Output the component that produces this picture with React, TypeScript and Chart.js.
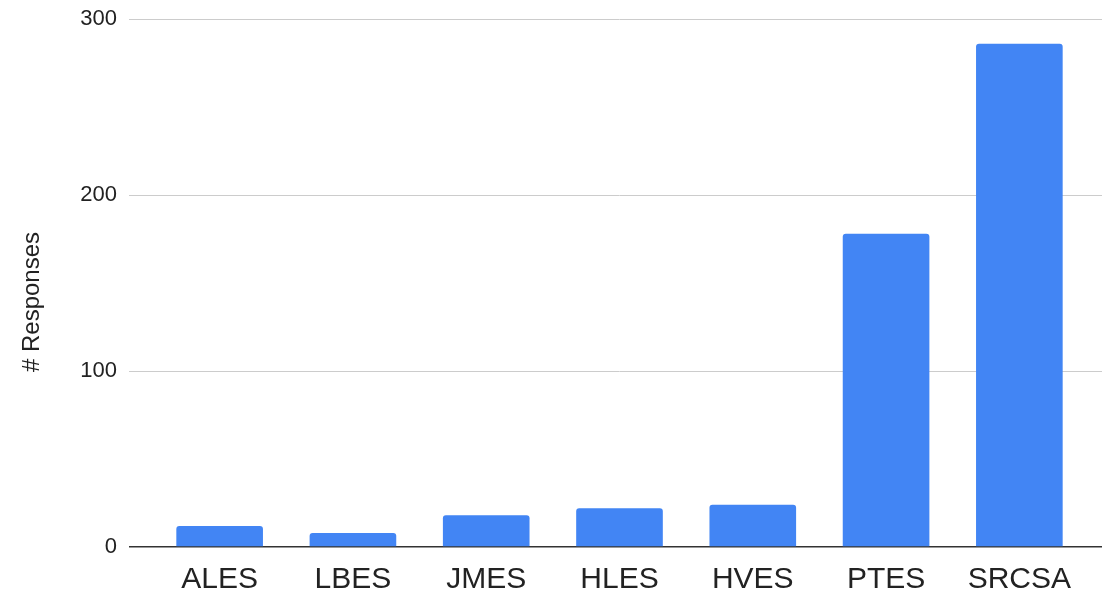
import React, { useEffect, useRef } from "react";
import { Chart, registerables } from "chart.js";

Chart.register(...registerables);

const categories = ["ALES", "LBES", "JMES", "HLES", "HVES", "PTES", "SRCSA"];
const responses = [12, 8, 18, 22, 24, 178, 286];
const yTicks = [0, 100, 200, 300];
const yTitle = "# Responses";

const FONT = "'Liberation Sans', Arial, sans-serif";

const yTitlePlugin = {
  id: "yTitlePlugin",
  afterDraw(chart: any) {
    const c = chart.ctx;
    c.save();
    c.translate(32.5, chart.height / 2 + 4);
    c.rotate(-Math.PI / 2);
    c.font = `24px ${FONT}`;
    c.fillStyle = "#222";
    c.textAlign = "center";
    c.textBaseline = "middle";
    c.fillText(yTitle, 0, 0);
    c.restore();
  },
};

export default function App() {
  const ref = useRef<HTMLCanvasElement | null>(null);
  useEffect(() => {
    document.body.style.margin = "0";
    const ctx = ref.current!.getContext("2d")!;
    const chart = new Chart(ctx, {
      type: "bar",
      data: {
        labels: categories,
        datasets: [
          {
            data: responses,
            backgroundColor: "#4285F4",
            borderRadius: 3,
            borderSkipped: "start",
            barPercentage: 0.65,
            categoryPercentage: 1,
          },
        ],
      },
      plugins: [yTitlePlugin],
      options: {
        animation: false,
        responsive: false,
        maintainAspectRatio: false,
        layout: { padding: { top: 19, left: 0, right: 0, bottom: 0 } },
        plugins: { legend: { display: false }, tooltip: { enabled: false } },
        scales: {
          x: {
            afterFit: (s: any) => {
              s.height = 49;
              s.paddingLeft = 0;
              s.paddingRight = 0;
            },
            grid: { display: false, drawTicks: false },
            border: { display: false },
            ticks: {
              color: "#222",
              padding: 15,
              font: { family: FONT, size: 30 },
              maxRotation: 0,
            },
          },
          y: {
            min: 0,
            max: 300,
            afterBuildTicks: (s: any) => {
              s.ticks = yTicks.map((v) => ({ value: v }));
            },
            afterFit: (s: any) => {
              s.width = 153;
              s.paddingTop = 0;
              s.paddingBottom = 0;
            },
            grid: {
              color: (c: any) => (c.tick && c.tick.value === 0 ? "#333" : "#ccc"),
              lineWidth: (c: any) => (c.tick && c.tick.value === 0 ? 1.5 : 1),
              tickLength: 24,
              drawTicks: true,
            },
            border: { display: false },
            ticks: {
              color: "#222",
              padding: 12,
              font: { family: FONT, size: 22 },
            },
          },
          yRight: {
            position: "right",
            min: 0,
            max: 300,
            afterBuildTicks: (s: any) => {
              s.ticks = yTicks.map((v) => ({ value: v }));
            },
            afterFit: (s: any) => {
              s.width = 16;
              s.paddingTop = 0;
              s.paddingBottom = 0;
            },
            grid: {
              drawOnChartArea: false,
              drawTicks: true,
              tickLength: 16,
              color: (c: any) => (c.tick && c.tick.value === 0 ? "#333" : "#ccc"),
              lineWidth: (c: any) => (c.tick && c.tick.value === 0 ? 1.5 : 1),
            },
            border: { display: false },
            ticks: { display: false },
          },
        },
      },
    });
    return () => chart.destroy();
  }, []);
  return (
    <div style={{ width: 1102, height: 596 }}>
      <canvas ref={ref} width={1102} height={596} style={{ display: "block" }} />
    </div>
  );
}
